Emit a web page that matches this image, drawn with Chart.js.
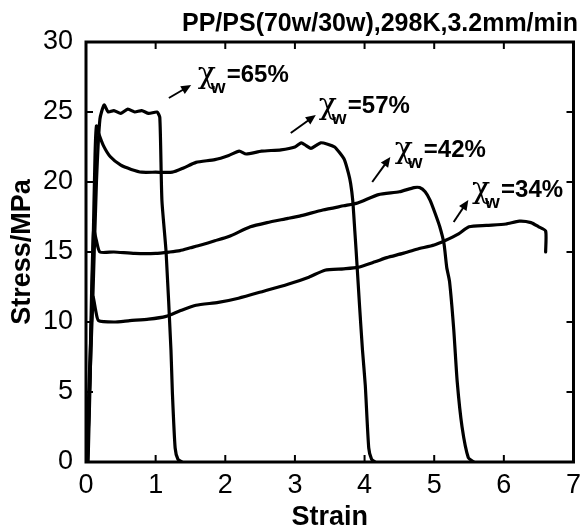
<!DOCTYPE html>
<html><head><meta charset="utf-8">
<script src="https://cdn.jsdelivr.net/npm/chart.js@4.4.1/dist/chart.umd.min.js"></script>
<style>html,body{margin:0;padding:0;background:#fff;}canvas{display:block}</style>
</head><body>
<canvas id="c" width="588" height="530"></canvas>
<script>
// ---- data (strain, stress/MPa) ----
const strain65 = [0.02,0.05,0.10,0.15,0.20,0.26,0.32,0.40,0.50,0.60,0.70,0.80,0.90,1.02,1.06,1.09,1.15,1.22,1.24,1.28,1.32,1.38];
const stress65 = [0,5,12,20,24.5,25.5,25.0,25.1,24.9,25.2,25.0,25.1,24.9,25.0,24.6,18.7,15,8,5,1,0.2,0];

const strain57 = [0.03,0.06,0.10,0.13,0.15,0.18,0.25,0.35,0.50,0.65,0.80,1.00,1.24,1.40,1.58,1.85,2.05,2.20,2.30,2.52,2.80,3.00,3.09,3.16,3.23,3.30,3.37,3.47,3.57,3.64,3.71,3.77,3.80,3.83,3.86,3.88,3.93,3.97,4.01,4.06,4.10,4.15];
const stress57 = [0,6,15,22,24.0,23.5,22.6,21.8,21.2,20.9,20.7,20.7,20.7,21.0,21.4,21.6,21.9,22.2,22.0,22.2,22.3,22.5,22.8,22.6,22.4,22.6,22.8,22.7,22.5,22.1,21.6,20.6,19.9,18.7,16.5,15,11,8,5.5,1,0.2,0];

const strain42 = [0.02,0.05,0.08,0.11,0.15,0.20,0.40,0.70,1.00,1.20,1.35,1.50,1.65,1.85,2.05,2.36,2.60,2.90,3.09,3.40,3.70,3.90,4.20,4.50,4.71,4.79,4.87,4.94,5.01,5.08,5.14,5.18,5.22,5.28,5.33,5.40,5.49,5.57];
const stress42 = [0,5,12,16.6,15.8,15.0,15.0,14.9,14.9,15.0,15.1,15.3,15.5,15.8,16.1,16.8,17.1,17.4,17.6,18.0,18.3,18.5,19.1,19.3,19.6,19.6,19.3,18.7,17.8,16.8,15.6,13.9,12.9,9.5,5.75,2.5,0.3,0];

const strain34 = [0.01,0.04,0.07,0.10,0.14,0.18,0.40,0.63,0.90,1.15,1.35,1.58,1.90,2.19,2.55,2.90,3.20,3.43,3.70,3.90,4.15,4.32,4.55,4.75,5.00,5.15,5.35,5.50,5.75,6.03,6.22,6.39,6.50,6.60,6.60];
const stress34 = [0,5,9,11.8,10.8,10.1,10.0,10.1,10.2,10.4,10.8,11.2,11.4,11.7,12.2,12.7,13.2,13.7,13.8,13.9,14.3,14.6,14.9,15.2,15.5,15.8,16.3,16.8,16.9,17.0,17.2,17.1,16.8,16.5,15.0];

const seriesNames = ['65%','57%','42%','34%'];
const xTicks = [0,1,2,3,4,5,6,7];
const yTicks = [0,5,10,15,20,25,30];
const titleText = 'PP/PS(70w/30w),298K,3.2mm/min';
const xTitle = 'Strain';
const yTitle = 'Stress/MPa';

// annotation layout (data-space anchors)
const notes = [
  {label:'=65%', text:[2.02,27.14], tail:[1.19,26.0], head:[1.51,26.93]},
  {label:'=57%', text:[3.76,24.93], tail:[2.94,23.5], head:[3.30,24.79]},
  {label:'=42%', text:[4.85,21.79], tail:[4.11,20.0], head:[4.37,21.79]},
  {label:'=34%', text:[5.96,18.93], tail:[5.28,17.14], head:[5.49,18.71]}
];

const pairs = (xs, ys) => xs.map((x,i)=>({x:x, y:ys[i]}));
const mk = (xs, ys, name) => ({label:name, data:pairs(xs,ys), showLine:true, borderColor:'#000', borderWidth:3.2, pointRadius:0, fill:false, tension:0.2, borderJoinStyle:'round', borderCapStyle:'round'});

const frame = {
  id:'frame',
  afterDraw(chart){
    const ctx = chart.ctx, a = chart.chartArea, xs = chart.scales.x, ys = chart.scales.y;
    ctx.save();
    ctx.strokeStyle = '#000';
    ctx.lineWidth = 2;
    const tl = 7;
    xTicks.forEach(v=>{
      const p = xs.getPixelForValue(v);
      ctx.beginPath(); ctx.moveTo(p,a.bottom); ctx.lineTo(p,a.bottom-tl); ctx.stroke();
      ctx.beginPath(); ctx.moveTo(p,a.top); ctx.lineTo(p,a.top+tl); ctx.stroke();
    });
    yTicks.forEach(v=>{
      const p = ys.getPixelForValue(v);
      ctx.beginPath(); ctx.moveTo(a.left,p); ctx.lineTo(a.left+tl,p); ctx.stroke();
      ctx.beginPath(); ctx.moveTo(a.right,p); ctx.lineTo(a.right-tl,p); ctx.stroke();
    });
    ctx.lineWidth = 3;
    ctx.strokeRect(a.left, a.top, a.right-a.left, a.bottom-a.top);

    // annotations
    notes.forEach(n=>{
      const tx = xs.getPixelForValue(n.text[0]), ty = ys.getPixelForValue(n.text[1]);
      const x0 = xs.getPixelForValue(n.tail[0]), y0 = ys.getPixelForValue(n.tail[1]);
      const x1 = xs.getPixelForValue(n.head[0]), y1 = ys.getPixelForValue(n.head[1]);
      const ang = Math.atan2(y1-y0, x1-x0), hl = 10, hw = 4.5;
      ctx.lineWidth = 2;
      ctx.beginPath(); ctx.moveTo(x0,y0); ctx.lineTo(x1-Math.cos(ang)*hl*0.6, y1-Math.sin(ang)*hl*0.6); ctx.stroke();
      ctx.fillStyle = '#000';
      ctx.beginPath();
      ctx.moveTo(x1,y1);
      ctx.lineTo(x1-Math.cos(ang)*hl - Math.sin(ang)*hw, y1-Math.sin(ang)*hl + Math.cos(ang)*hw);
      ctx.lineTo(x1-Math.cos(ang)*hl + Math.sin(ang)*hw, y1-Math.sin(ang)*hl - Math.cos(ang)*hw);
      ctx.closePath(); ctx.fill();
      ctx.textAlign = 'left'; ctx.textBaseline = 'alphabetic';
      ctx.font = '30px "DejaVu Serif", serif';
      ctx.fillText('\u03C7', tx-29, ty+1);
      ctx.font = 'bold 19px "Liberation Sans", Arial, sans-serif';
      ctx.fillText('w', tx-16, ty+11);
      ctx.font = 'bold 24px "Liberation Sans", Arial, sans-serif';
      ctx.fillText(n.label, tx, ty);
    });
    ctx.restore();
  }
};

new Chart(document.getElementById('c'), {
  type:'scatter',
  data:{datasets:[mk(strain65,stress65,seriesNames[0]), mk(strain57,stress57,seriesNames[1]), mk(strain42,stress42,seriesNames[2]), mk(strain34,stress34,seriesNames[3])]},
  options:{
    responsive:false, animation:false, devicePixelRatio:1,
    layout:{padding:{top:0,right:10,left:0,bottom:0}},
    plugins:{
      legend:{display:false}, tooltip:{enabled:false},
      title:{display:true, text:titleText, align:'end', color:'#000',
        font:{family:'"Liberation Sans", Arial, sans-serif', size:25, weight:'bold', lineHeight:1.2},
        padding:{top:9,bottom:3}}
    },
    scales:{
      x:{type:'linear', min:0, max:7,
        afterBuildTicks(s){ s.ticks = xTicks.map(v=>({value:v})); },
        afterFit(s){ s.height = 68; },
        ticks:{color:'#000', padding:7, font:{family:'"Liberation Sans", Arial, sans-serif', size:27}},
        grid:{display:false, drawTicks:false}, border:{display:false},
        title:{display:true, text:xTitle, color:'#000', padding:0, font:{family:'"Liberation Sans", Arial, sans-serif', size:27, weight:'bold', lineHeight:0.9}}
      },
      y:{type:'linear', min:0, max:30,
        afterBuildTicks(s){ s.ticks = yTicks.map(v=>({value:v})); },
        afterFit(s){ s.width = 86; },
        ticks:{color:'#000', padding:13, font:{family:'"Liberation Sans", Arial, sans-serif', size:27}},
        grid:{display:false, drawTicks:false}, border:{display:false},
        title:{display:true, text:yTitle, color:'#000', padding:{top:6,bottom:0}, font:{family:'"Liberation Sans", Arial, sans-serif', size:27, weight:'bold', lineHeight:1.2}}
      }
    }
  },
  plugins:[frame]
});
</script>
</body></html>
